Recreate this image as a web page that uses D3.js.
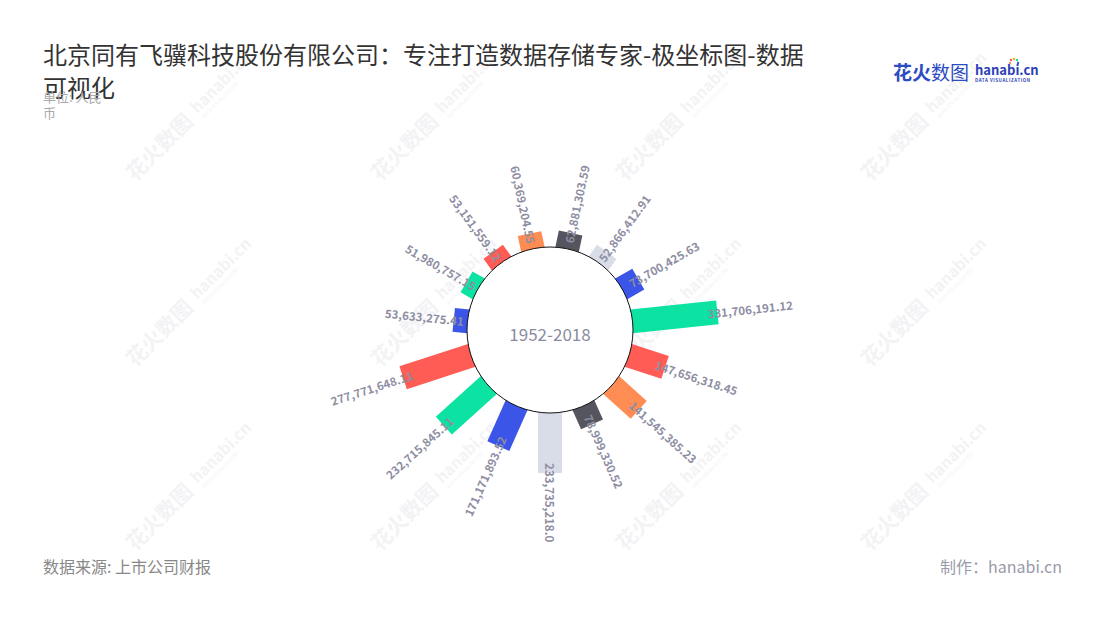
<!DOCTYPE html>
<html>
<head>
<meta charset="utf-8">
<script src="https://cdn.jsdelivr.net/npm/d3@7/dist/d3.min.js"></script>
<style>
  html, body { margin: 0; padding: 0; background: #fff; }
  svg text { font-family: "Noto Sans CJK SC", "Noto Sans", sans-serif; }
</style>
</head>
<body>
<svg id="chart" width="1100" height="620"></svg>
<script>
// ---- data (clockwise from the top) ----
const categories = ["c1","c2","c3","c4","c5","c6","c7","c8","c9","c10","c11","c12","c13","c14","c15"];
const values = [62881303.59, 52866412.91, 73700425.63, 331706191.12, 147656318.45, 141545385.23,
                78999330.52, 233735218.0, 171171893.52, 232715845.11, 277771648.11, 53633275.41,
                51980757.15, 53151559.12, 60369204.55];
const valueLabels = ["62,881,303.59","52,866,412.91","73,700,425.63","331,706,191.12","147,656,318.45",
                     "141,545,385.23","78,999,330.52","233,735,218.0","171,171,893.52","232,715,845.11",
                     "277,771,648.11","53,633,275.41","51,980,757.15","53,151,559.12","60,369,204.55"];
const barColors = ["#55555f","#d9dde8","#3a55e8","#0ce3a2","#ff5c55","#ff8c52","#55555f","#d9dde8",
                   "#3a55e8","#0ce3a2","#ff5c55","#3a55e8","#0ce3a2","#ff5c55","#ff8c52"];
const title = "北京同有飞骥科技股份有限公司：专注打造数据存储专家-极坐标图-数据可视化";
const centerLabel = "1952-2018";

const svg = d3.select("#chart");

// ---- watermarks ----
const wmX = [135, 380, 625, 870];
const wmY = [182, 368, 552];
const wm = svg.append("g");
wmY.forEach(y => wmX.forEach(x => {
  const g = wm.append("g").attr("transform", `translate(${x},${y}) rotate(-45)`);
  g.append("text").attr("x", 0).attr("y", 0).attr("font-size", 21).attr("font-weight", "bold")
    .attr("fill", "#f3f3f5").text("花火数图");
  g.append("text").attr("x", 92).attr("y", -4).attr("font-size", 16).attr("font-weight", "bold")
    .attr("fill", "#f3f3f5").text("hanabi.cn");
  g.append("text").attr("x", 94).attr("y", 4).attr("font-size", 5)
    .attr("fill", "#f3f3f5").text("DATA VISUALIZATION");
}));

// ---- title ----
const tt = svg.append("text").attr("x", 43).attr("font-size", 24).attr("fill", "#333");
tt.append("tspan").attr("x", 43).attr("y", 64).text(title.slice(0, 33));
tt.append("tspan").attr("x", 43).attr("y", 97).text(title.slice(33));

const st = svg.append("text").attr("font-size", 13).attr("fill", "#aaa");
st.append("tspan").attr("x", 43).attr("y", 102).text("单位: 人民");
st.append("tspan").attr("x", 43).attr("y", 118).text("币");

// ---- logo ----
const logo = svg.append("g");
logo.append("text").attr("x", 893).attr("y", 80).attr("font-size", 19).attr("font-weight", "bold")
  .attr("fill", "#2b4cc2").text("花火");
logo.append("text").attr("x", 931).attr("y", 80).attr("font-size", 19)
  .attr("fill", "#2b4cc2").text("数图");
logo.append("text").attr("x", 975).attr("y", 75).attr("font-size", 13).attr("font-weight", "bold")
  .attr("fill", "#2c3fb8").attr("font-family", "Roboto, sans-serif").text("hanabi.cn");
logo.append("text").attr("x", 975).attr("y", 82).attr("font-size", 4.4).attr("font-weight", "bold")
  .attr("fill", "#2c3fb8").attr("letter-spacing", 0.6).text("DATA VISUALIZATION");
[["#ff5c55",-3,-4],["#ffb400",0,-5],["#0ce3a2",3,-4],["#3a55e8",4,-1],["#ff8c52",-4,-1]].forEach(d => {
  logo.append("circle").attr("cx", 1014 + d[1]).attr("cy", 64 + d[2]).attr("r", 1.2).attr("fill", d[0]);
});

// ---- polar bars ----
const cx = 550, cy = 330, innerR = 83, barW = 24;
const angle = d3.scaleBand().domain(categories).range([0, 360]).padding(0);
const radius = d3.scaleLinear().domain([0, 350000000]).range([innerR, 173]);

const data = categories.map((c, i) => ({ c, v: values[i], label: valueLabels[i], color: barColors[i] }));
const center = svg.append("g").attr("transform", `translate(${cx},${cy})`);

center.selectAll("rect.bar").data(data).join("rect")
  .attr("class", "bar")
  .attr("x", -barW / 2)
  .attr("y", d => -radius(d.v))
  .attr("width", barW)
  .attr("height", d => radius(d.v) - innerR + 8)
  .attr("fill", d => d.color)
  .attr("transform", d => `rotate(${angle(d.c) + angle.bandwidth() / 2})`);

center.append("circle").attr("r", innerR).attr("fill", "#fff").attr("stroke", "#111").attr("stroke-width", 1);

center.append("text").attr("x", 0).attr("y", 3).attr("text-anchor", "middle")
  .attr("dominant-baseline", "central").attr("font-size", 17).attr("fill", "#8c8ca0")
  .attr("font-family", "Noto Sans, sans-serif").text(centerLabel);

center.selectAll("text.lbl").data(data).join("text")
  .attr("class", "lbl")
  .attr("font-size", 11.5)
  .attr("font-weight", "bold")
  .attr("font-family", "Noto Sans, sans-serif")
  .attr("fill", "#8e8ea2")
  .attr("dominant-baseline", "central")
  .attr("transform", d => {
    const a = angle(d.c) + angle.bandwidth() / 2;
    const r = radius(d.v) - 10;
    const rad = a * Math.PI / 180;
    const x = r * Math.sin(rad), y = -r * Math.cos(rad);
    const rot = a <= 180 ? a - 90 : a + 90;
    return `translate(${x},${y}) rotate(${rot})`;
  })
  .attr("text-anchor", d => (angle(d.c) + angle.bandwidth() / 2) <= 180 ? "start" : "end")
  .text(d => d.label);

// ---- footer ----
svg.append("text").attr("x", 43).attr("y", 573).attr("font-size", 16).attr("fill", "#888")
  .text("数据来源: 上市公司财报");
svg.append("text").attr("x", 1062).attr("y", 573).attr("font-size", 16).attr("fill", "#9a9aaa")
  .attr("text-anchor", "end").text("制作：hanabi.cn");
</script>
</body>
</html>
